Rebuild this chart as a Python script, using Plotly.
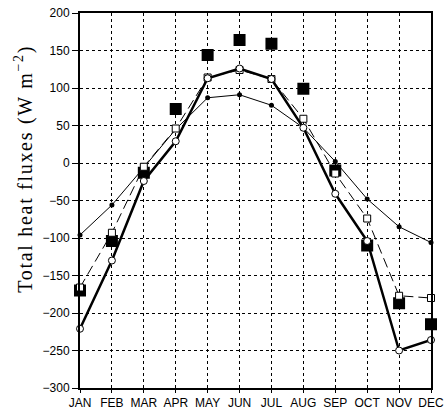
import plotly.graph_objects as go

months = ["JAN", "FEB", "MAR", "APR", "MAY", "JUN", "JUL", "AUG", "SEP", "OCT", "NOV", "DEC"]
thick_circle = [-221, -130, -24, 29, 113, 126, 112, 47, -41, -104, -250, -236]
dashed_square = [-166, -93, -5, 46, 114, 124, 112, 59, -14, -74, -177, -180]
thin_dot = [-96, -56, -6, 45, 87, 91, 77, 47, 2, -48, -85, -106]
big_square = [-170, -104, -13, 72, 144, 164, 159, 99, -10, -110, -187, -215]
yticks = [200, 150, 100, 50, 0, -50, -100, -150, -200, -250, -300]
ylabel = "Total heat fluxes (W m<sup>\u22122</sup>)"

x = list(range(len(months)))

fig = go.Figure()
fig.add_trace(go.Scatter(x=x, y=big_square, mode="markers",
                         marker=dict(symbol="square", size=12, color="black"),
                         cliponaxis=False))
fig.add_trace(go.Scatter(x=x, y=thin_dot, mode="lines+markers",
                         line=dict(color="black", width=1),
                         marker=dict(symbol="circle", size=5, color="black"),
                         cliponaxis=False))
fig.add_trace(go.Scatter(x=x, y=dashed_square, mode="lines+markers",
                         line=dict(color="black", width=1, dash="10px,5px"),
                         marker=dict(symbol="square", size=7, color="white",
                                     line=dict(color="black", width=1)),
                         cliponaxis=False))
fig.add_trace(go.Scatter(x=x, y=thick_circle, mode="lines+markers",
                         line=dict(color="black", width=2.5),
                         marker=dict(symbol="circle", size=7, color="white",
                                     line=dict(color="black", width=1)),
                         cliponaxis=False))

fig.update_layout(
    width=444, height=412,
    margin=dict(l=80, r=13, t=13, b=24, autoexpand=False),
    paper_bgcolor="white", plot_bgcolor="white",
    showlegend=False,
    font=dict(family="Liberation Sans", size=12, color="black"),
)
fig.update_xaxes(
    range=[0, 11], tickvals=x, ticktext=months, automargin=False,
    showgrid=True, gridcolor="black", gridwidth=1, griddash="dot",
    showline=True, linecolor="black", linewidth=2, mirror=True,
    ticks="outside", ticklen=3, tickcolor="black", zeroline=False,
    tickfont=dict(family="Liberation Sans", size=12),
)
fig.update_yaxes(
    range=[-300, 200], tickvals=yticks, automargin=False,
    ticktext=[str(v).replace("-", "\u2212") for v in yticks],
    showgrid=True, gridcolor="black", gridwidth=1, griddash="dot",
    showline=True, linecolor="black", linewidth=2, mirror=True,
    ticks="outside", ticklen=6, tickcolor="black", zeroline=False,
    tickfont=dict(family="Liberation Sans", size=12),
)
fig.add_annotation(
    text=ylabel, textangle=-90, showarrow=False,
    xref="paper", yref="paper", x=-0.16, y=0.585,
    xanchor="center", yanchor="middle",
    font=dict(family="Liberation Serif", size=20, color="black"),
)

post = (
    "document.body.style.margin='0';"
    "document.querySelectorAll('.annotation-text').forEach(function(e){"
    "e.style.letterSpacing='1.7px';});"
)
fig.write_html("out.html", config={"displayModeBar": False}, post_script=post)
